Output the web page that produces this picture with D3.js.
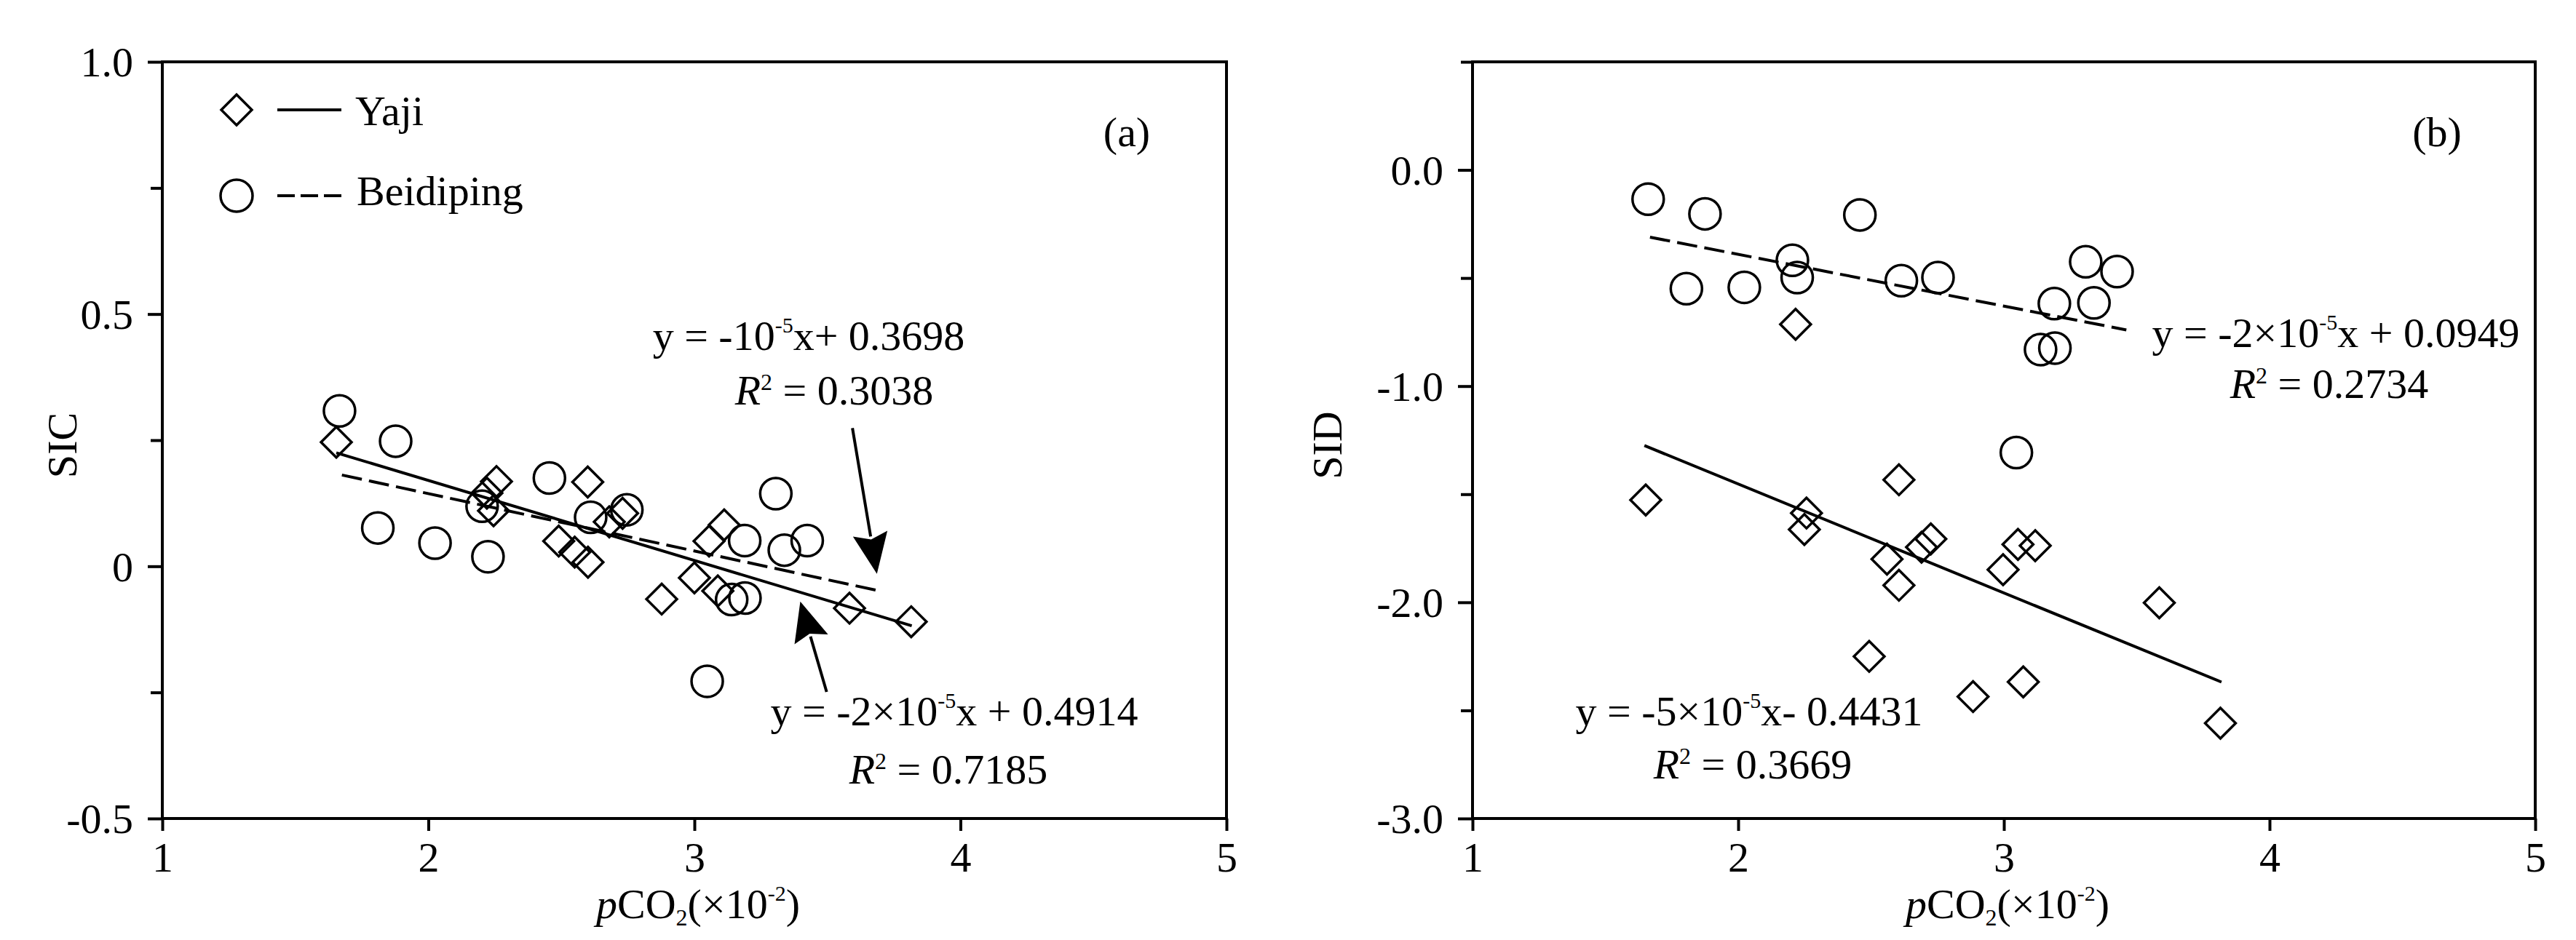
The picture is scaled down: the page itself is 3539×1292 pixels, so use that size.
<!DOCTYPE html>
<html>
<head>
<meta charset="utf-8">
<script src="https://cdn.jsdelivr.net/npm/d3@7"></script>
<style>
  html, body { margin: 0; padding: 0; background: #fff; }
  svg { display: block; }
  text { font-family: "Liberation Serif", "Times New Roman", serif; fill: #000; }
</style>
</head>
<body>
<script>
// ---------------- DATA ----------------
const xTickValues = [1, 2, 3, 4, 5];

// Panel (a) SIC
const aYTickValues = [-0.5, 0, 0.5, 1.0];
const aYTickLabels = ["-0.5", "0", "0.5", "1.0"];
const aYMinorTicks = [-0.25, 0.25, 0.75];

const aYajiX = [1.654, 2.256, 2.22, 2.245, 2.599, 2.49, 2.55, 2.60, 2.73, 2.68, 2.877, 3.0, 3.088, 3.055, 3.112, 3.583, 3.815];
const aYajiY = [0.246, 0.168, 0.145, 0.110, 0.167, 0.050, 0.028, 0.008, 0.105, 0.088, -0.065, -0.023, -0.049, 0.050, 0.082, -0.083, -0.110];

const aBeidX = [1.666, 1.877, 1.810, 2.025, 2.224, 2.202, 2.455, 2.610, 2.746, 3.306, 3.189, 3.338, 3.424, 3.140, 3.190, 3.048];
const aBeidY = [0.308, 0.248, 0.076, 0.046, 0.019, 0.119, 0.175, 0.097, 0.112, 0.144, 0.051, 0.032, 0.051, -0.066, -0.063, -0.228];

const aYajiFitX = [1.654, 3.817];
const aYajiFitY = [0.225, -0.118];
const aBeidFitX = [1.675, 3.706];
const aBeidFitY = [0.181, -0.050];

// Panel (b) SID
const bYTickValues = [-3, -2, -1, 0];
const bYTickLabels = ["-3.0", "-2.0", "-1.0", "0.0"];
const bYMinorTicks = [-2.5, -1.5, -0.5, 0.5];

const bYajiX = [1.652, 2.216, 2.257, 2.249, 2.605, 2.56, 2.605, 2.69, 2.725, 2.493, 2.884, 2.997, 3.053, 3.118, 3.073, 3.585, 3.815];
const bYajiY = [-1.527, -0.714, -1.587, -1.663, -1.433, -1.800, -1.921, -1.745, -1.707, -2.250, -2.436, -1.849, -1.732, -1.738, -2.368, -2.002, -2.559];

const bBeidX = [1.661, 1.875, 2.458, 1.805, 2.023, 2.204, 2.222, 2.614, 2.752, 3.047, 3.308, 3.426, 3.190, 3.339, 3.138, 3.192];
const bBeidY = [-0.135, -0.203, -0.208, -0.549, -0.543, -0.418, -0.498, -0.512, -0.498, -1.307, -0.425, -0.470, -0.618, -0.615, -0.831, -0.824];

const bYajiFitX = [1.647, 3.819];
const bYajiFitY = [-1.275, -2.369];
const bBeidFitX = [1.668, 3.461];
const bBeidFitY = [-0.311, -0.740];

// Arrows in panel (a): [tailX, tailY, tipX, tipY] in data units
const aArrow1 = [3.594, 0.274, 3.686, -0.015];
const aArrow2 = [3.497, -0.249, 3.398, -0.070];

// ---------------- DRAWING ----------------
const W = 3539, H = 1292;
const FS = 58;
const LW = 4;     // line width
const MW = 3.5;   // marker stroke
const svg = d3.select("body").append("svg").attr("width", W).attr("height", H);
svg.append("rect").attr("width", W).attr("height", H).attr("fill", "#fff");

const plotTop = 85, plotBottom = 1125;

function addRich(g, x, y, parts, anchor) {
  const t = g.append("text").attr("x", x).attr("y", y)
    .attr("font-size", FS).attr("text-anchor", anchor || "middle");
  parts.forEach(p => {
    const ts = t.append("tspan").text(p.t);
    if (p.i) ts.attr("font-style", "italic");
    if (p.sup) ts.attr("font-size", p.fs || 30).attr("dy", p.dy || -24);
    if (p.sub) ts.attr("font-size", p.fs || 32).attr("dy", p.dy || 10);
    if (p.back) ts.attr("dy", p.back);
  });
  return t;
}

function diamondPath(s) {
  return d3.symbol().type(d3.symbolSquare).size(s)();
}

function drawPanel(opts) {
  const x = d3.scaleLinear().domain([1, 5]).range([opts.left, opts.right]);
  const y = d3.scaleLinear().domain(opts.yDomain).range([plotBottom, plotTop]);
  const g = svg.append("g");

  // frame
  g.append("rect").attr("x", opts.left).attr("y", plotTop)
    .attr("width", opts.right - opts.left).attr("height", plotBottom - plotTop)
    .attr("fill", "none").attr("stroke", "#000").attr("stroke-width", LW);

  // major y axis
  const yAx = g.append("g").attr("transform", `translate(${opts.left},0)`)
    .call(d3.axisLeft(y).tickValues(opts.yTicks)
      .tickFormat((d, i) => opts.yLabels[i]).tickSize(20).tickPadding(20));
  yAx.select(".domain").remove();
  yAx.selectAll(".tick line").attr("stroke", "#000").attr("stroke-width", LW);
  yAx.selectAll(".tick text").attr("font-size", FS).attr("dy", "0.34em")
    .attr("font-family", "Liberation Serif").attr("fill", "#000");

  // minor y ticks
  const yMin = g.append("g").attr("transform", `translate(${opts.left},0)`)
    .call(d3.axisLeft(y).tickValues(opts.yMinor).tickFormat("").tickSize(16));
  yMin.select(".domain").remove();
  yMin.selectAll(".tick line").attr("stroke", "#000").attr("stroke-width", LW);

  // x axis
  const xAx = g.append("g").attr("transform", `translate(0,${plotBottom})`)
    .call(d3.axisBottom(x).tickValues(xTickValues).tickFormat(d3.format("d")).tickSize(17));
  xAx.select(".domain").remove();
  xAx.selectAll(".tick line").attr("stroke", "#000").attr("stroke-width", LW);
  xAx.selectAll(".tick text").attr("font-size", FS).attr("y", 73).attr("dy", 0)
    .attr("font-family", "Liberation Serif").attr("fill", "#000");

  // fit lines
  const line = d3.line().x(d => x(d[0])).y(d => y(d[1]));
  g.append("path").datum(d3.zip(opts.yajiFitX, opts.yajiFitY)).attr("d", line)
    .attr("fill", "none").attr("stroke", "#000").attr("stroke-width", LW);
  g.append("path").datum(d3.zip(opts.beidFitX, opts.beidFitY)).attr("d", line)
    .attr("fill", "none").attr("stroke", "#000").attr("stroke-width", LW)
    .attr("stroke-dasharray", "28,10");

  // markers
  g.selectAll(".dia").data(d3.zip(opts.yajiX, opts.yajiY)).enter().append("path")
    .attr("d", diamondPath(880))
    .attr("transform", d => `translate(${x(d[0])},${y(d[1])}) rotate(45)`)
    .attr("fill", "none").attr("stroke", "#000").attr("stroke-width", MW);
  g.selectAll(".cir").data(d3.zip(opts.beidX, opts.beidY)).enter().append("circle")
    .attr("cx", d => x(d[0])).attr("cy", d => y(d[1])).attr("r", 21.5)
    .attr("fill", "none").attr("stroke", "#000").attr("stroke-width", MW);

  // y label
  g.append("text").attr("transform", `translate(${opts.yLabX},612) rotate(-90)`)
    .attr("text-anchor", "middle").attr("font-size", FS).text(opts.yLabel);

  // x label
  addRich(g, (opts.left + opts.right) / 2 + 5, 1262, [
    { t: "p", i: true }, { t: "CO" }, { t: "2", sub: true, dy: 10 },
    { t: "(×10", back: -10 }, { t: "-2", sup: true, dy: -24 }, { t: ")", back: 24 }
  ]);

  return { x, y, g };
}

function arrow(g, x, y, a, headLen, headW) {
  const x0 = x(a[0]), y0 = y(a[1]), x1 = x(a[2]), y1 = y(a[3]);
  const dx = x1 - x0, dy = y1 - y0, L = Math.hypot(dx, dy);
  const ux = dx / L, uy = dy / L;
  const bx = x1 - ux * headLen, by = y1 - uy * headLen;
  g.append("line").attr("x1", x0).attr("y1", y0).attr("x2", bx + ux * 4).attr("y2", by + uy * 4)
    .attr("stroke", "#000").attr("stroke-width", LW);
  const px = -uy * headW / 2, py = ux * headW / 2;
  g.append("path").attr("d", `M${x1},${y1}L${bx + px},${by + py}L${bx + ux * 8},${by + uy * 8}L${bx - px},${by - py}Z`)
    .attr("fill", "#000");
}

// Panel (a)
const A = drawPanel({
  left: 223, right: 1685, yDomain: [-0.5, 1.0],
  yTicks: aYTickValues, yLabels: aYTickLabels, yMinor: aYMinorTicks,
  yajiX: aYajiX, yajiY: aYajiY, beidX: aBeidX, beidY: aBeidY,
  yajiFitX: aYajiFitX, yajiFitY: aYajiFitY, beidFitX: aBeidFitX, beidFitY: aBeidFitY,
  yLabel: "SIC", yLabX: 105
});
arrow(A.g, A.x, A.y, aArrow1, 56, 48);
arrow(A.g, A.x, A.y, aArrow2, 54, 48);

// legend (a)
A.g.append("path").attr("d", diamondPath(880)).attr("transform", "translate(325,151) rotate(45)")
  .attr("fill", "none").attr("stroke", "#000").attr("stroke-width", MW);
A.g.append("line").attr("x1", 381).attr("x2", 469).attr("y1", 151).attr("y2", 151)
  .attr("stroke", "#000").attr("stroke-width", LW);
A.g.append("text").attr("x", 488).attr("y", 172).attr("font-size", FS).text("Yaji");
A.g.append("circle").attr("cx", 325).attr("cy", 269).attr("r", 22)
  .attr("fill", "none").attr("stroke", "#000").attr("stroke-width", MW);
A.g.append("line").attr("x1", 381).attr("x2", 469).attr("y1", 269).attr("y2", 269)
  .attr("stroke", "#000").attr("stroke-width", LW).attr("stroke-dasharray", "24,8");
A.g.append("text").attr("x", 490).attr("y", 282).attr("font-size", FS).text("Beidiping");

A.g.append("text").attr("x", 1548).attr("y", 201).attr("text-anchor", "middle").attr("font-size", FS).text("(a)");
addRich(A.g, 1111, 481, [{ t: "y = -10" }, { t: "-5", sup: true }, { t: "x+ 0.3698", back: 24 }]);
addRich(A.g, 1146, 556, [{ t: "R", i: true }, { t: "2", sup: true, fs: 32, dy: -20 }, { t: " = 0.3038", back: 20 }]);
addRich(A.g, 1311, 997, [{ t: "y = -2×10" }, { t: "-5", sup: true }, { t: "x + 0.4914", back: 24 }]);
addRich(A.g, 1303, 1077, [{ t: "R", i: true }, { t: "2", sup: true, fs: 32, dy: -20 }, { t: " = 0.7185", back: 20 }]);

// Panel (b)
const B = drawPanel({
  left: 2023, right: 3483, yDomain: [-3, 0.5],
  yTicks: bYTickValues, yLabels: bYTickLabels, yMinor: bYMinorTicks,
  yajiX: bYajiX, yajiY: bYajiY, beidX: bBeidX, beidY: bBeidY,
  yajiFitX: bYajiFitX, yajiFitY: bYajiFitY, beidFitX: bBeidFitX, beidFitY: bBeidFitY,
  yLabel: "SID", yLabX: 1843
});
B.g.append("text").attr("x", 3348).attr("y", 201).attr("text-anchor", "middle").attr("font-size", FS).text("(b)");
addRich(B.g, 3209, 477, [{ t: "y = -2×10" }, { t: "-5", sup: true }, { t: "x + 0.0949", back: 24 }]);
addRich(B.g, 3200, 547, [{ t: "R", i: true }, { t: "2", sup: true, fs: 32, dy: -20 }, { t: " = 0.2734", back: 20 }]);
addRich(B.g, 2403, 997, [{ t: "y = -5×10" }, { t: "-5", sup: true }, { t: "x- 0.4431", back: 24 }]);
addRich(B.g, 2408, 1070, [{ t: "R", i: true }, { t: "2", sup: true, fs: 32, dy: -20 }, { t: " = 0.3669", back: 20 }]);
</script>
</body>
</html>
